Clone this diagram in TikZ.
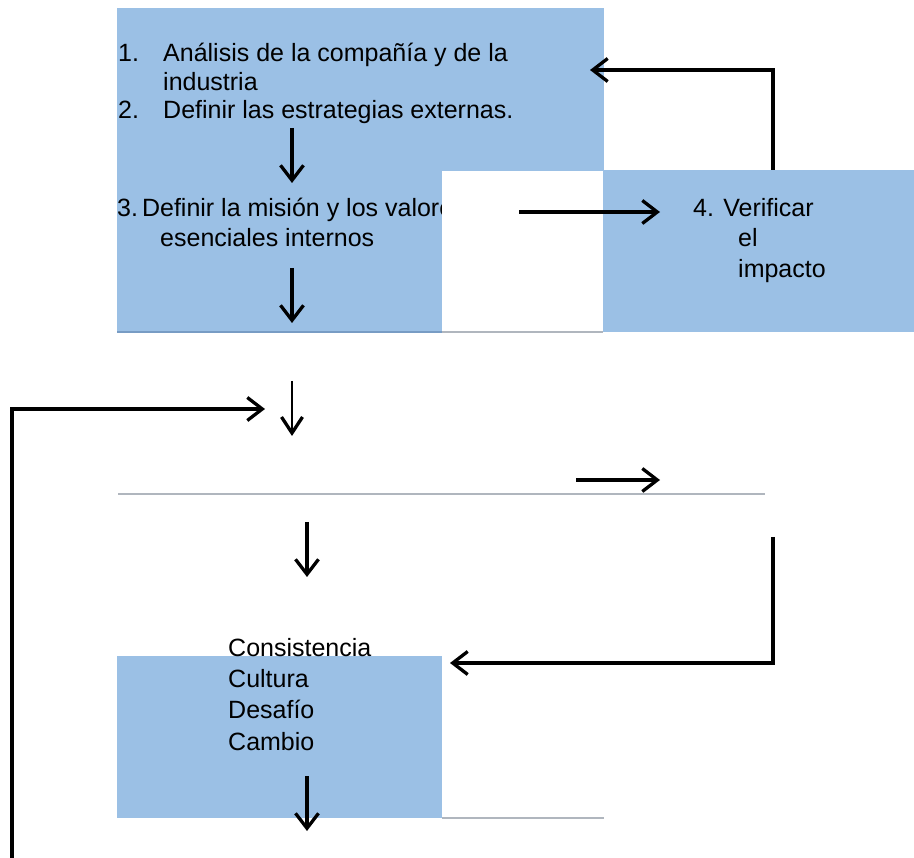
\documentclass[tikz,border=0pt]{standalone}
\usepackage{fontspec}
\setmainfont{Liberation Sans}
\usetikzlibrary{arrows.meta}
\definecolor{boxblue}{RGB}{155,192,229}
\definecolor{edgeblue}{RGB}{120,156,196}
\definecolor{rulegray}{RGB}{176,182,190}
\tikzset{
  panel/.style={fill=boxblue, draw=none},
  blank/.style={fill=white, draw=none},
  rulel/.style={draw=rulegray, line width=1.4pt},
  label/.style={anchor=base west, inner sep=0pt, font=\fontsize{25}{29}\selectfont},
  flow/.style={line width=3.3pt, -{Straight Barb[length=15pt, width=23pt, line width=3.3pt]}},
  thinflow/.style={line width=2.5pt, -{Straight Barb[length=16pt, width=21pt, line width=3.3pt]}},
}
\begin{document}
\begin{tikzpicture}[x=1pt, y=-1pt]
\useasboundingbox (0,0) rectangle (914,858);
\fill[white] (0,0) rectangle (914,858);

% upper panel with steps 1 to 3
\fill[panel] (117,8) rectangle (604,332);
\draw[edgeblue, line width=1.2pt] (117,332) -- (442,332);
\node[label] (n1) at (118,62) {1.};
\node[label] (t1) at (163,62) {Análisis de la compañía y de la};
\node[label] (t1b) at (163,91) {industria};
\node[label] (n2) at (118,119) {2.};
\node[label] (t2) at (163,119) {Definir las estrategias externas.};
\node[label] (t3) at (117,217) {3.\hspace{4pt}Definir la misión y los valores};
\node[label] (t3b) at (160,247) {esenciales internos};

% white notch and step 4 panel
\fill[blank] (442,171) rectangle (603,332);
\draw[rulegray, line width=1.2pt] (442,332) -- (603,332);
\fill[panel] (603,170) rectangle (914,332);
\node[label] (t4) at (693,217) {4. Verificar};
\node[label] (t4b) at (738,247) {el};
\node[label] (t4c) at (738,278) {impacto};

% middle rule
\draw[rulel] (118,494) -- (765,494);

% lower panel
\fill[panel] (117,656) rectangle (442,818);
\draw[rulel] (442,818) -- (604,818);
\node[label] (c1) at (228,656) {Consistencia};
\node[label] (c2) at (228,687) {Cultura};
\node[label] (c3) at (228,718) {Desafío};
\node[label] (c4) at (228,750) {Cambio};

% connector end points
\coordinate (a1s) at (292,128);  \coordinate (a1e) at (292,183);
\coordinate (a2s) at (292,268);  \coordinate (a2e) at (292,323);
\coordinate (a3s) at (519,212);  \coordinate (a3e) at (660,212);
\coordinate (r1s) at (773,170);  \coordinate (r1c) at (773,70);  \coordinate (r1e) at (590,70);
\coordinate (a4s) at (292,381);  \coordinate (a4e) at (292,436);
\coordinate (l1s) at (12,858);   \coordinate (l1c) at (12,409);  \coordinate (l1e) at (265,409);
\coordinate (a5s) at (576,480);  \coordinate (a5e) at (660,480);
\coordinate (a6s) at (307,522);  \coordinate (a6e) at (307,577);
\coordinate (r2s) at (773,537);  \coordinate (r2c) at (773,663);  \coordinate (r2e) at (450,663);
\coordinate (a7s) at (307,776);  \coordinate (a7e) at (307,831);

% connectors
\draw[flow] (a1s) -- (a1e);
\draw[flow] (a2s) -- (a2e);
\draw[flow] (a3s) -- (a3e);
\draw[flow, line join=miter] (r1s) -- (r1c) -- (r1e);
\draw[thinflow] (a4s) -- (a4e);
\draw[flow, line join=miter] (l1s) -- (l1c) -- (l1e);
\draw[flow] (a5s) -- (a5e);
\draw[flow] (a6s) -- (a6e);
\draw[flow, line join=miter] (r2s) -- (r2c) -- (r2e);
\draw[flow] (a7s) -- (a7e);
\end{tikzpicture}
\end{document}
